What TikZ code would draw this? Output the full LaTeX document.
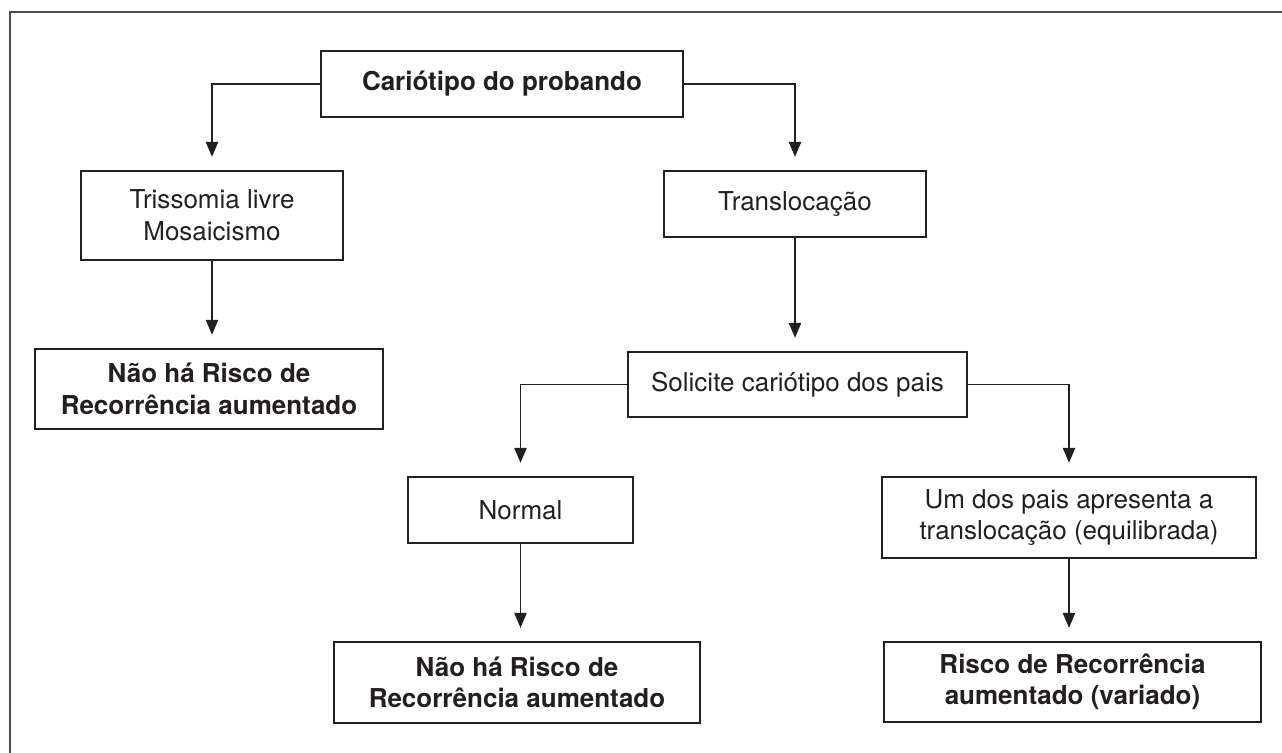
\documentclass[tikz,border=0pt]{standalone}
\usepackage{fontspec}
\setmainfont{TeX Gyre Heros}
\usepackage{tikz}
\usetikzlibrary{arrows.meta}
\usetikzlibrary{positioning}
\definecolor{ink}{HTML}{231F20}
\tikzset{box/.style = {draw=ink, line width=1.15pt, text=ink, align=center,
                       font=\fontsize{14.8}{18}\selectfont, inner sep=0pt}}
\tikzset{boldbox/.style = {box, font=\fontsize{14.8}{18}\selectfont\bfseries}}
\tikzset{link/.style = {draw=ink, line width=0.85pt,
                        -{Triangle[length=8.5pt, width=7pt]}, shorten >=7.5pt}}

\begin{document}
\begin{tikzpicture}[x=0.02cm, y=-0.02cm]
      \useasboundingbox (0, 0) rectangle (1282, 753);
      \draw [ink!80, line width=1.1pt] (1282, 12) -- (10, 12) -- (10, 753);

      \node [boldbox, minimum width=7.24cm, minimum height=1.32cm] (probando) at (502, 84) {Cariótipo do probando};
      \node [box, minimum width=5.26cm, minimum height=1.78cm] (trissomia) at (212, 215.5) {Trissomia livre\\Mosaicismo};
      \node [boldbox, minimum width=6.96cm, minimum height=1.6cm] (semrisco) at (209, 389) {Não há Risco de\\Recorrência aumentado};
      \node [box, minimum width=5.24cm, minimum height=1.32cm] (transloc) at (795, 204) {Translocação};
      \node [box, minimum width=6.78cm, minimum height=1.3cm] (pais) at (797.5, 384.5) {Solicite cariótipo dos pais};
      \node [box, minimum width=4.5cm, minimum height=1.32cm] (normal) at (520.5, 510) {Normal};
      \node [box, minimum width=7.48cm, minimum height=1.62cm] (portador) at (1069, 517.5) {Um dos pais apresenta a\\translocação (equilibrada)};
      \node [boldbox, minimum width=7.32cm, minimum height=1.62cm] (semrisco2) at (517, 682.5) {Não há Risco de\\Recorrência aumentado};
      \node [boldbox, minimum width=7.54cm, minimum height=1.6cm] (risco) at (1072.5, 682) {Risco de Recorrência\\aumentado (variado)};

      \draw [link] (probando.west) -| (trissomia.north);
      \draw [link] (probando.east) -| (transloc.north);
      \draw [link] (trissomia.south) -- (trissomia.south |- semrisco.north);
      \draw [link] (transloc.south) -- (transloc.south |- pais.north);
      \draw [link] (pais.west) -| (normal.north);
      \draw [link] (pais.east) -| (portador.north);
      \draw [link] (normal.south) -- (normal.south |- semrisco2.north);
      \draw [link] (portador.south) -- (portador.south |- risco.north);
    \end{tikzpicture}
\end{document}
